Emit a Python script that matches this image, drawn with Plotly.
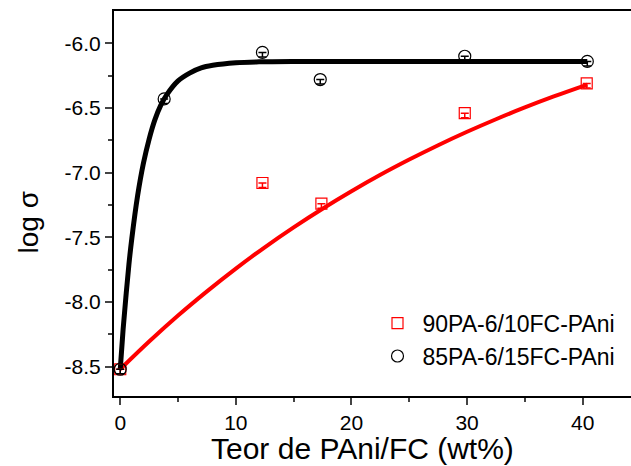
import plotly.graph_objects as go

# Measured data
x_pts = [0, 3.8, 12.3, 17.3, 29.8, 40.4]
y_85 = [-8.52, -6.43, -6.07, -6.28, -6.10, -6.14]
x_sq = [0, 12.3, 17.4, 29.8, 40.35]
y_90 = [-8.52, -7.08, -7.24, -6.54, -6.31]

# Fitted curves
fit85_x = [0, 0.25, 0.5, 0.75, 1.0, 1.5, 2.0, 2.5, 3.0, 3.5, 4.0, 5.0, 6.0, 7.0, 8.0, 10, 12, 15, 20, 30, 40.4]
fit85_y = [-8.52, -8.21, -7.95, -7.71, -7.51, -7.18, -6.93, -6.74, -6.59, -6.48, -6.40, -6.29,
           -6.23, -6.19, -6.17, -6.15, -6.143, -6.14, -6.14, -6.14, -6.14]
fit90_x = [0, 2.5, 5, 7.5, 10, 12.5, 15, 17.5, 20, 22.5, 25, 27.5, 30, 32.5, 35, 37.5, 40.4]
fit90_y = [-8.52, -8.306, -8.105, -7.918, -7.742, -7.577, -7.423, -7.279, -7.144, -7.017,
           -6.899, -6.788, -6.684, -6.587, -6.496, -6.411, -6.319]

labels = ["90PA-6/10FC-PAni", "85PA-6/15FC-PAni"]
x_ticks = [0, 10, 20, 30, 40]
y_ticks = [-8.5, -8.0, -7.5, -7.0, -6.5, -6.0]
y_ticktext = ["-8.5", "-8.0", "-7.5", "-7.0", "-6.5", "-6.0"]

FONT = "Liberation Sans, Arial, sans-serif"

fig = go.Figure()
fig.add_trace(go.Scatter(x=fit90_x, y=fit90_y, mode="lines", line=dict(color="#FF0000", width=4, shape="spline"),
                         showlegend=False, hoverinfo="skip"))
fig.add_trace(go.Scatter(x=fit85_x, y=fit85_y, mode="lines", line=dict(color="#000000", width=5, shape="spline"),
                         showlegend=False, hoverinfo="skip"))
fig.add_trace(go.Scatter(x=x_sq, y=y_90, mode="markers", name=labels[0],
                         marker=dict(symbol="square-open", size=11, color="#FF0000", line=dict(width=1.2)),
                         error_y=dict(type="data", symmetric=False, array=[0]*len(x_sq), arrayminus=[0.035]*len(x_sq),
                                      width=4, thickness=1.5, color="#FF0000")))
fig.add_trace(go.Scatter(x=x_pts, y=y_85, mode="markers", name=labels[1],
                         marker=dict(symbol="circle-open", size=12, color="#000000", line=dict(width=1.2)),
                         error_y=dict(type="data", symmetric=False, array=[0]*len(x_pts), arrayminus=[0.035]*len(x_pts),
                                      width=4, thickness=1.5, color="#000000")))

fig.update_layout(
    width=631, height=466,
    margin=dict(l=114, r=0, t=11, b=70),
    paper_bgcolor="white", plot_bgcolor="white",
    font=dict(family=FONT, color="black", size=21),
    legend=dict(x=0.5, y=0.245, xanchor="left", yanchor="top", font=dict(size=23),
                bgcolor="rgba(0,0,0,0)", itemwidth=40, tracegroupgap=0),
    annotations=[
        dict(text="Teor de PAni/FC (wt%)", x=0.5, y=0, xref="paper", yref="paper",
             xanchor="center", yanchor="middle", showarrow=False, font=dict(size=30),
             xshift=-10, yshift=-52),
        dict(text="log σ", x=0, y=0.5, xref="paper", yref="paper", textangle=-90,
             xanchor="center", yanchor="middle", showarrow=False, font=dict(size=28),
             xshift=-86, yshift=-19),
    ],
)
fig.update_xaxes(range=[-0.54, 44.18], tickvals=x_ticks, ticks="outside", ticklen=7, tickwidth=2,
                 minor=dict(tickvals=[5, 15, 25, 35], ticks="outside", ticklen=4, tickwidth=2),
                 showline=True, linewidth=2, linecolor="black", mirror=True, showgrid=False, zeroline=False,
                 tickfont=dict(size=21))
fig.update_yaxes(range=[-8.727, -5.75], tickvals=y_ticks, ticktext=y_ticktext,
                 ticks="outside", ticklen=7, tickwidth=2,
                 minor=dict(tickvals=[-8.25, -7.75, -7.25, -6.75, -6.25], ticks="outside", ticklen=4, tickwidth=2),
                 showline=True, linewidth=2, linecolor="black", mirror=False, showgrid=False, zeroline=False,
                 tickfont=dict(size=21))

fig.write_html("out.html", config={"displayModeBar": False},
               post_script="document.body.style.margin='0px';")
